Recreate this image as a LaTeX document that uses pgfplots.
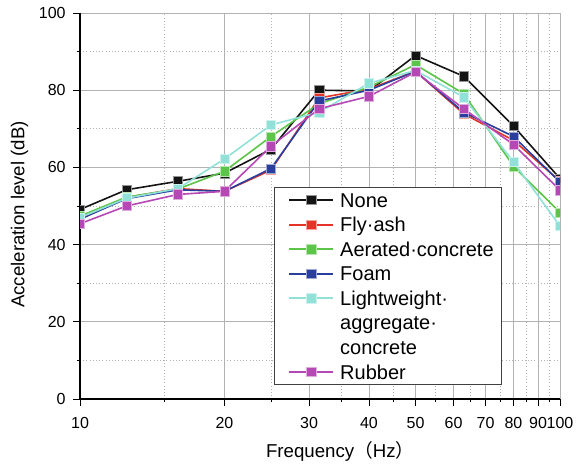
\documentclass[border=0pt]{standalone}
\usepackage{pgfplots}
\pgfplotsset{compat=1.18}
\usepackage{fontspec}
\setmainfont{Liberation Sans}
\newfontfamily\cjk{Noto Sans CJK SC}
\definecolor{cNone}{RGB}{20,20,20}
\definecolor{cFly}{RGB}{228,52,40}
\definecolor{cAer}{RGB}{92,196,72}
\definecolor{cFoam}{RGB}{42,62,158}
\definecolor{cLight}{RGB}{145,225,216}
\definecolor{cRub}{RGB}{182,72,182}
\pgfplotsset{
  ser/.style={color=#1, line width=1.2pt, mark=square*, mark size=3.5pt,
    mark options={solid, fill=#1, draw=white!55!#1, line width=0.4pt}},
}
\begin{document}
\begin{tikzpicture}[x=1pt,y=1pt]
\path[use as bounding box] (-60,-50.25) rectangle (375,299.25);
\begin{axis}[
  at={(0,0)}, anchor=south west,
  scale only axis, width=360pt, height=289.5pt,
  xmode=log, xmin=10, xmax=100, ymin=0, ymax=100,
  axis lines=left, axis line style={-, black, line width=0.8pt},
  tick align=outside,
  xtick={10,20,30,40,50,60,70,80,90,100},
  xticklabels={10,20,30,40,50,60,70,80,90,100},
  minor xtick={15,25,35,45,55,65,75,85,95},
  ytick={0,20,40,60,80,100},
  minor ytick={10,30,50,70,90},
  grid=both,
  major grid style={solid, color=black!30, line width=0.6pt},
  minor grid style={dotted, color=black!30, line width=0.6pt},
  major tick length=5.25pt, minor tick length=2.5pt,
  every tick/.style={black, line width=0.6pt},
  tick label style={font=\fontsize{12}{14}\selectfont},
  xticklabel style={yshift=-5pt},
  yticklabel style={xshift=-2pt},
  /pgf/number format/assume math mode=true,
  clip marker paths=true,
  xlabel={Frequency{\cjk（}Hz{\cjk）}},
  ylabel={Acceleration level (dB)},
  every axis x label/.style={at={(axis description cs:0.542,-0.152)}, anchor=base, font=\fontsize{14}{16}\selectfont},
  every axis y label/.style={at={(axis description cs:-0.116,0.478)}, anchor=base, rotate=90, font=\fontsize{14}{16}\selectfont},
  legend image code/.code={
    \path (0pt,0pt);
    \draw[line width=1.4pt, mark repeat=2, mark phase=2] plot coordinates {(4.5pt,5.25pt) (21pt,5.25pt) (37.5pt,5.25pt)};
  },
  legend style={at={(rel axis cs:0.879,0.0363)}, anchor=south east,
    draw=black!75, fill=white,
    font=\fontsize{15}{18}\selectfont,
    inner xsep=6pt, inner ysep=0.5pt, column sep=4.5pt, row sep=0pt,
    nodes={inner sep=0pt, text height=14.7pt, text depth=3.73pt, anchor=base west}},
  legend cell align=left,
]
\addplot[ser=cNone] coordinates {(10,49.1) (12.5,54.2) (16,56.4) (20,58.5) (25,64.7) (31.5,80.0) (40,79.8) (50,89.0) (63,83.6) (80,70.7) (100,57.1)};
\addlegendentry{None}
\addplot[ser=cFly] coordinates {(10,46.6) (12.5,52.2) (16,54.5) (20,53.8) (25,59.3) (31.5,78.0) (40,80.3) (50,84.9) (63,73.9) (80,67.0) (100,56.4)};
\addlegendentry{Fly·ash}
\addplot[ser=cAer] coordinates {(10,47.4) (12.5,52.3) (16,54.4) (20,59.0) (25,68.0) (31.5,76.5) (40,80.8) (50,86.6) (63,79.1) (80,60.3) (100,48.3)};
\addlegendentry{Aerated·concrete}
\addplot[ser=cFoam] coordinates {(10,46.6) (12.5,51.9) (16,54.2) (20,53.8) (25,59.7) (31.5,77.2) (40,80.0) (50,84.9) (63,74.3) (80,68.0) (100,56.2)};
\addlegendentry{Foam}
\addplot[ser=cLight] coordinates {(10,47.0) (12.5,52.0) (16,54.5) (20,62.2) (25,71.0) (31.5,74.3) (40,81.8) (50,85.1) (63,78.2) (80,61.4) (100,44.8)};
\addlegendentry{Lightweight·}
\addlegendimage{empty legend}
\addlegendentry{aggregate·}
\addlegendimage{empty legend}
\addlegendentry{concrete}
\addplot[ser=cRub] coordinates {(10,45.4) (12.5,50.0) (16,53.0) (20,53.8) (25,65.5) (31.5,75.2) (40,78.4) (50,84.7) (63,75.2) (80,65.9) (100,54.1)};
\addlegendentry{Rubber}
\end{axis}
\end{tikzpicture}
\end{document}
